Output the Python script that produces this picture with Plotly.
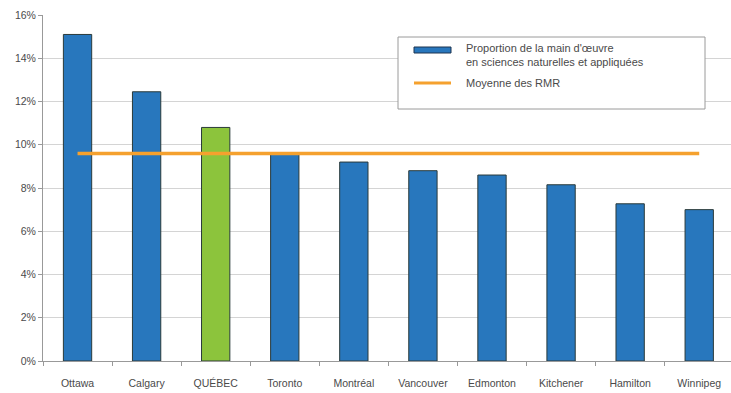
import plotly.graph_objects as go

# Share of the workforce in natural and applied sciences, by CMA (%)
cities = ["Ottawa", "Calgary", "QUÉBEC", "Toronto", "Montréal", "Vancouver",
          "Edmonton", "Kitchener", "Hamilton", "Winnipeg"]
share = [15.1, 12.45, 10.8, 9.57, 9.2, 8.8, 8.6, 8.15, 7.27, 7.0]
cma_average = [9.6] * len(cities)

y_ticks = [0, 2, 4, 6, 8, 10, 12, 14, 16]
y_tick_labels = [f"{v}%" for v in y_ticks]

legend_bar_label = "Proportion de la main d'œuvre<br>en sciences naturelles et appliquées"
legend_line_label = "Moyenne des RMR"

bar_colors = ["#8cc43c" if c == "QUÉBEC" else "#2877bd" for c in cities]

fig = go.Figure()
fig.add_trace(go.Bar(
    x=cities, y=share, width=0.41,
    marker=dict(color=bar_colors, line=dict(color="#2a3a3a", width=1)),
    showlegend=False,
))
fig.add_trace(go.Scatter(
    x=cities, y=cma_average, mode="lines",
    line=dict(color="#f5a12e", width=3.5),
    showlegend=False,
))

W, H = 731, 393
ml, mr, mt, mb = 43, 0, 15, 32
text_color = "#4a4a4a"
font = dict(family="Liberation Sans, Arial, sans-serif", size=10.5, color=text_color)

fig.update_layout(
    width=W, height=H,
    margin=dict(l=ml, r=mr, t=mt, b=mb),
    paper_bgcolor="white", plot_bgcolor="white",
    font=font,
    xaxis=dict(
        range=[-0.5, 9.46], showgrid=False,
        showline=True, linecolor="#999999", linewidth=1,
        ticks="outside", tickson="boundaries", ticklen=4, tickcolor="#999999",
        tickfont=dict(size=10.5, color=text_color),
        ticklabelstandoff=12,
    ),
    yaxis=dict(
        range=[0, 16], tickvals=y_ticks, ticktext=y_tick_labels,
        showgrid=True, gridcolor="#d4d4d4", gridwidth=1,
        showline=True, linecolor="#999999", linewidth=1,
        ticks="outside", ticklen=4, tickcolor="#999999",
        tickfont=dict(size=10.5, color=text_color), zeroline=False,
    ),
)

# Legend box drawn in paper coordinates
def px_x(x):
    return (x - ml) / (W - ml - mr)

def px_y(y):
    return 1 - (y - mt) / (H - mt - mb)

fig.add_shape(type="rect", xref="paper", yref="paper",
              x0=px_x(398), x1=px_x(705), y0=px_y(109), y1=px_y(37),
              line=dict(color="#9a9a9a", width=1), fillcolor="white", layer="above")
fig.add_shape(type="rect", xref="paper", yref="paper",
              x0=px_x(414), x1=px_x(451), y0=px_y(53), y1=px_y(47),
              line=dict(color="#1d3550", width=1), fillcolor="#2877bd", layer="above")
fig.add_shape(type="line", xref="paper", yref="paper",
              x0=px_x(414), x1=px_x(451), y0=px_y(83), y1=px_y(83),
              line=dict(color="#f5a12e", width=3), layer="above")
fig.add_annotation(xref="paper", yref="paper", x=px_x(464), y=px_y(55),
                   text=legend_bar_label, showarrow=False, xanchor="left", yanchor="middle",
                   align="left", font=dict(size=11, color=text_color))
fig.add_annotation(xref="paper", yref="paper", x=px_x(464), y=px_y(83),
                   text=legend_line_label, showarrow=False, xanchor="left", yanchor="middle",
                   align="left", font=dict(size=11, color=text_color))

fig.write_html("out.html")
